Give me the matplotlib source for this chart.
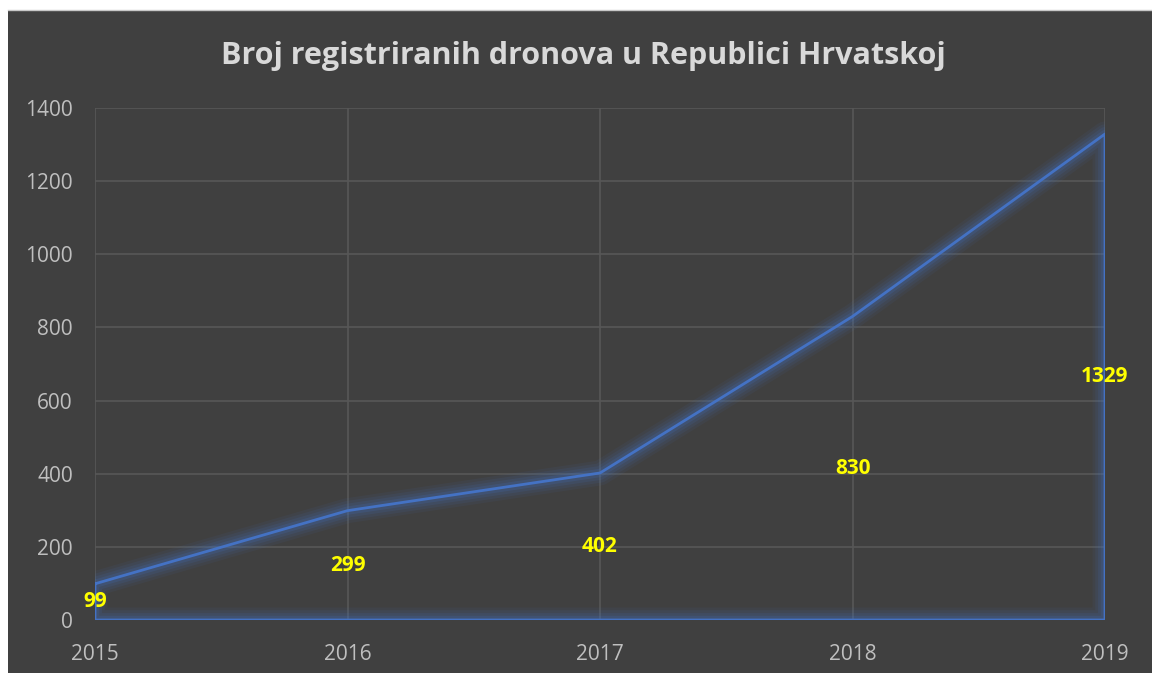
import numpy as np
import matplotlib.pyplot as plt
from matplotlib.patches import Rectangle
from matplotlib.lines import Line2D

years = [2015, 2016, 2017, 2018, 2019]
drones = [99, 299, 402, 830, 1329]
title = "Broj registriranih dronova u Republici Hrvatskoj"

BG = "#404040"
GRID = "#575757"
LINE = "#4472c4"

fig = plt.figure(figsize=(11.52, 6.73), dpi=100, facecolor="white")
fig.patches.append(Rectangle((8 / 1152, 0), 1.0, 1 - 10 / 673,
                             transform=fig.transFigure, facecolor=BG,
                             edgecolor="none", zorder=-10))
fig.lines.append(Line2D([8 / 1152, 1], [1 - 9.5 / 673] * 2,
                        transform=fig.transFigure, color="#c8c8c8", linewidth=1))

ax = fig.add_axes([95 / 1152, 1 - 620 / 673, 1010 / 1152, 512 / 673])
ax.set_facecolor(BG)
ax.set_xlim(years[0], years[-1])
ax.set_ylim(0, 1400)
ax.set_xticks(years)
ax.set_yticks(np.arange(0, 1401, 200))
ax.grid(True, color=GRID, linewidth=1.2)
ax.set_axisbelow(True)
for s in ax.spines.values():
    s.set_visible(False)
ax.tick_params(length=0, colors="#bfbfbf", labelsize=15)
ax.tick_params(axis="x", pad=17)
ax.tick_params(axis="y", pad=16)
for lab in ax.get_xticklabels() + ax.get_yticklabels():
    lab.set_family("Open Sans")

# area outline (no fill) with soft glow
xs = years + [years[-1], years[0], years[0]]
ys = drones + [0, 0, drones[0]]
for w, a in [(18, 0.07), (14, 0.09), (10, 0.12), (6, 0.18)]:
    ax.plot(xs, ys, color=LINE, linewidth=w, alpha=a, solid_joinstyle="round",
            solid_capstyle="round", zorder=3)
ax.plot(xs, ys, color=LINE, linewidth=2, zorder=4)

for x, v in zip(years, drones):
    ax.text(x, v / 2, str(v), color="#ffff00", fontsize=15, fontweight="bold",
            family="Open Sans", ha="center", va="center", zorder=5)

fig.text(583 / 1152, 1 - 56 / 673, title, color="#d9d9d9", fontsize=22,
         fontweight="bold", family="Open Sans", ha="center", va="center")

fig.savefig("out.png", dpi=100, facecolor=fig.get_facecolor())
